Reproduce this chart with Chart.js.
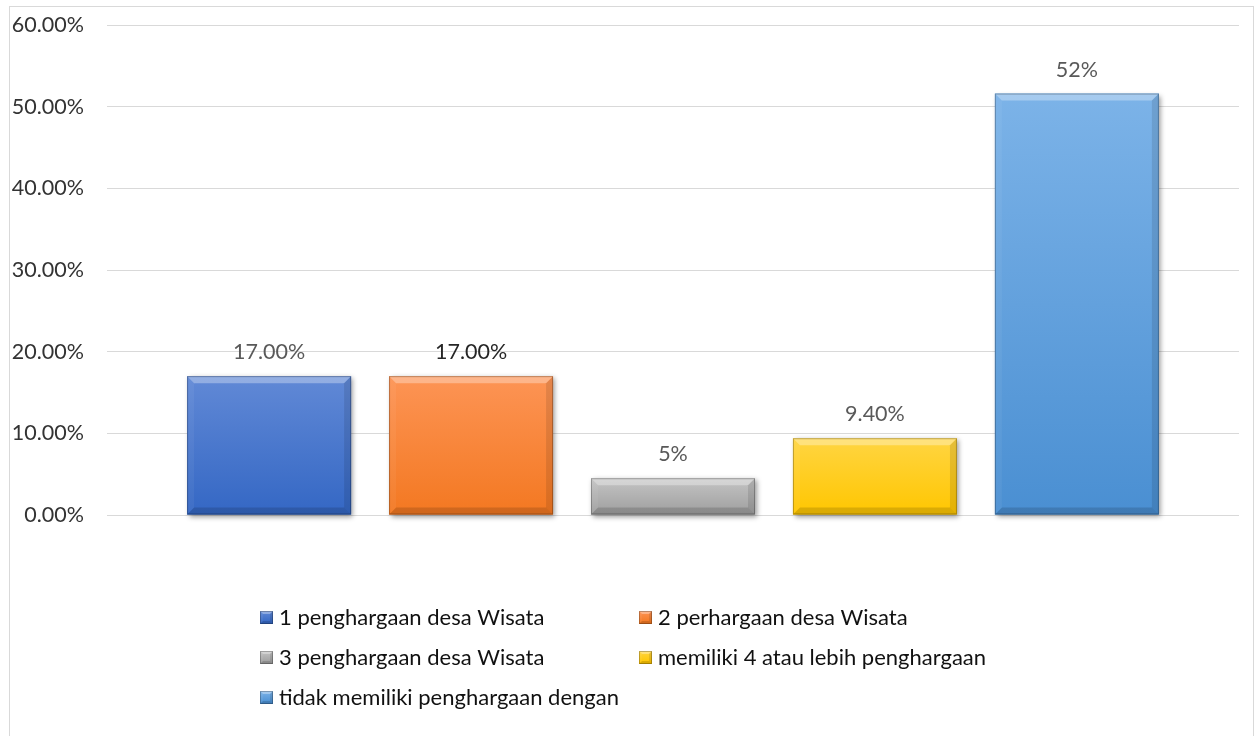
<!DOCTYPE html>
<html>
<head>
<meta charset="utf-8">
<script src="https://cdn.jsdelivr.net/npm/chart.js@4.4.1/dist/chart.umd.min.js"></script>
<style>
  html, body { margin: 0; padding: 0; background: #fff; }
  #wrap { position: relative; width: 1259px; height: 736px; overflow: hidden; }
  #frame { position: absolute; left: 9px; top: 6px; width: 1243px; height: 760px; border: 1px solid #d9d9d9; }
  canvas { position: absolute; left: 0; top: 0; }
</style>
</head>
<body>
<div id="wrap">
  <div id="frame"></div>
  <canvas id="myBarChart" width="1259" height="736"></canvas>
</div>
<script>
// series names (one bar each)
var seriesNames = [
    "1 penghargaan desa Wisata",
    "2 perhargaan desa Wisata",
    "3 penghargaan desa Wisata",
    "memiliki 4 atau lebih penghargaan",
    "tidak memiliki penghargaan dengan"
];
// percent values
var seriesValues = [17, 17, 4.5, 9.4, 51.6];
// decimals used by each data label
var labelDecimals = [2, 2, 0, 2, 0];
var labelColors = ["#595959", "#262626", "#595959", "#595959", "#595959"];
// [top, bottom] of each bar's gradient
var barColors = [
    ["#6189d6", "#3467c4"],
    ["#fd9455", "#f37821"],
    ["#c4c4c4", "#9e9e9e"],
    ["#ffd542", "#ffc600"],
    ["#7cb3e8", "#4a8fd2"]
];
var yMin = 0, yMax = 60, yStep = 10;

var FONT = "Lato, 'Liberation Sans', sans-serif";

function barGradient(c, i) {
    var chart = c.chart;
    var y = chart.scales.y;
    if (!chart.chartArea || !y) return barColors[i][1];
    var top = y.getPixelForValue(seriesValues[i]);
    var bottom = y.getPixelForValue(0);
    if (!isFinite(top) || !isFinite(bottom) || top === bottom) return barColors[i][1];
    var g = chart.ctx.createLinearGradient(0, top, 0, bottom);
    g.addColorStop(0, barColors[i][0]);
    g.addColorStop(1, barColors[i][1]);
    return g;
}

function barBox(el) {
    var p = el.getProps(['x', 'y', 'base', 'width'], true);
    return {
        l: p.x - p.width / 2, r: p.x + p.width / 2,
        t: Math.min(p.y, p.base), b: Math.max(p.y, p.base)
    };
}

function quad(ctx, pts, fill) {
    ctx.fillStyle = fill;
    ctx.beginPath();
    ctx.moveTo(pts[0], pts[1]);
    for (var k = 2; k < pts.length; k += 2) ctx.lineTo(pts[k], pts[k + 1]);
    ctx.closePath();
    ctx.fill();
}

// bevelled edges, like an office "soft bevel"
function bevel(ctx, l, t, r, b, d) {
    d = Math.min(d, (b - t) / 2, (r - l) / 2);
    quad(ctx, [l, t, r, t, r - d, t + d, l + d, t + d], "rgba(255,255,255,0.32)");
    quad(ctx, [l, t, l + d, t + d, l + d, b - d, l, b], "rgba(255,255,255,0.05)");
    quad(ctx, [r, t, r, b, r - d, b - d, r - d, t + d], "rgba(0,0,0,0.10)");
    quad(ctx, [l, b, l + d, b - d, r - d, b - d, r, b], "rgba(0,0,0,0.14)");
    ctx.strokeStyle = "rgba(0,0,0,0.25)";
    ctx.lineWidth = 1;
    ctx.strokeRect(l + 0.5, t + 0.5, r - l - 1, b - t - 1);
}

var barFx = {
    id: 'barFx',
    beforeDatasetsDraw: function(chart) {
        var ctx = chart.ctx;
        chart.data.datasets.forEach(function(ds, i) {
            chart.getDatasetMeta(i).data.forEach(function(el) {
                var r = barBox(el);
                ctx.save();
                ctx.shadowColor = "rgba(0,0,0,0.4)";
                ctx.shadowBlur = 5;
                ctx.shadowOffsetX = 2;
                ctx.shadowOffsetY = 2;
                ctx.fillStyle = barColors[i][1];
                ctx.fillRect(r.l, r.t, r.r - r.l, r.b - r.t);
                ctx.restore();
            });
        });
    },
    afterDatasetsDraw: function(chart) {
        var ctx = chart.ctx;
        chart.data.datasets.forEach(function(ds, i) {
            chart.getDatasetMeta(i).data.forEach(function(el, j) {
                var r = barBox(el);
                ctx.save();
                bevel(ctx, r.l, r.t, r.r, r.b, 7);
                ctx.restore();
                // value label above the bar
                ctx.save();
                ctx.font = "21.5px " + FONT;
                ctx.fillStyle = labelColors[i];
                ctx.textAlign = "center";
                ctx.textBaseline = "middle";
                ctx.fillText(ds.data[j].toFixed(labelDecimals[i]) + "%", el.x, r.t - 24);
                ctx.restore();
            });
        });
    }
};

// two-column legend at the bottom
var gridLegend = {
    id: 'gridLegend',
    afterDraw: function(chart) {
        var ctx = chart.ctx;
        var cols = [260, 639], rows = [617, 657, 697];
        chart.data.datasets.forEach(function(ds, i) {
            var x = cols[i % 2], y = rows[Math.floor(i / 2)];
            var g = ctx.createLinearGradient(0, y - 6, 0, y + 6);
            g.addColorStop(0, barColors[i][0]);
            g.addColorStop(1, barColors[i][1]);
            ctx.save();
            ctx.fillStyle = g;
            ctx.fillRect(x, y - 6, 13, 13);
            bevel(ctx, x, y - 6, x + 13, y + 7, 3);
            ctx.font = "22px " + FONT;
            ctx.fillStyle = "#111";
            ctx.textAlign = "left";
            ctx.textBaseline = "middle";
            ctx.fillText(ds.label, x + 19, y + 1);
            ctx.restore();
        });
    }
};

var datasets = seriesNames.map(function(name, i) {
    return {
        label: name,
        data: [seriesValues[i]],
        backgroundColor: function(c) { return barGradient(c, i); },
        borderWidth: 0,
        categoryPercentage: 0.892,
        barPercentage: 0.812
    };
});

var ctx = document.getElementById('myBarChart').getContext('2d');
var chart = new Chart(ctx, {
    type: 'bar',
    data: {
        labels: [""],
        datasets: datasets
    },
    options: {
        responsive: false,
        animation: false,
        layout: { padding: { top: 25, right: 20, bottom: 221, left: 0 } },
        plugins: {
            legend: { display: false },
            tooltip: { enabled: false }
        },
        scales: {
            x: { display: false },
            y: {
                min: yMin,
                max: yMax,
                afterFit: function(scale) { scale.width = 107; },
                ticks: {
                    stepSize: yStep,
                    padding: 0,
                    color: "#333",
                    font: { family: FONT, size: 21.5 },
                    callback: function(v) { return v.toFixed(2) + "%"; }
                },
                // invisible tick marks keep the labels clear of the plot
                grid: { color: "#d9d9d9", lineWidth: 1, drawTicks: true, tickLength: 23, tickColor: "rgba(0,0,0,0)" },
                border: { display: false }
            }
        }
    },
    plugins: [barFx, gridLegend]
});
</script>
</body>
</html>
